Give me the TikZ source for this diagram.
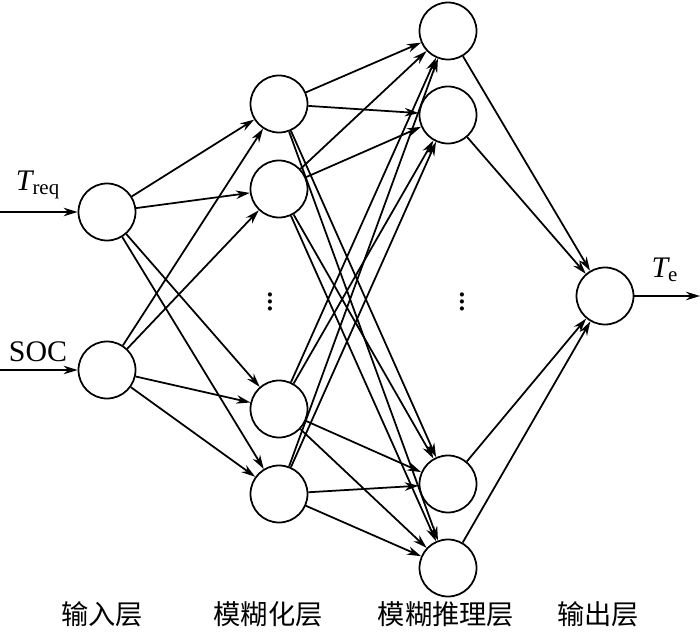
\documentclass[tikz,border=0pt]{standalone}
\usepackage{amsmath}
\usepackage{fontspec}
\setmainfont{Liberation Serif}
\newfontfamily\cjk{Noto Sans CJK SC}
\usetikzlibrary{arrows.meta}

\tikzset{
  neuron/.style={circle,draw,line width=1pt,minimum size=1.14cm,inner sep=0pt},
  link/.style={-{Stealth[length=2.8mm,width=1.7mm,inset=0.9mm]},line width=1pt},
  layer/.style={font=\cjk\fontsize{15.5}{17}\selectfont},
  sig/.style={font=\fontsize{17}{19}\selectfont},
  gap/.style={font=\fontsize{20}{22}\selectfont,inner sep=0pt}
}

\begin{document}
\begin{tikzpicture}
                      \useasboundingbox(0,0)rectangle(14,12.84);
                      % input layer
                      \node[neuron](i1)at(2.14,8.6){};
                      \node[neuron](i2)at(2.14,5.44){};
                      % fuzzification layer
                      \node[neuron](f1)at(5.58,10.76){};
                      \node[neuron](f2)at(5.58,9.06){};
                      \node[neuron](f3)at(5.58,4.66){};
                      \node[neuron](f4)at(5.58,2.96){};
                      \node[gap](fd)at(5.4,6.9){$\vdots$};
                      % inference layer
                      \node[neuron](r1)at(8.96,12.22){};
                      \node[neuron](r2)at(8.96,10.54){};
                      \node[neuron](r3)at(8.96,3.16){};
                      \node[neuron](r4)at(8.96,1.48){};
                      \node[gap](rd)at(9.24,6.9){$\vdots$};
                      % output layer
                      \node[neuron](o)at(12.1,6.92){};
                      % signals
                      \coordinate(tq)at(0,8.6);
                      \coordinate(sc)at(0,5.44);
                      \coordinate(te)at(14,6.92);
                      \node[sig](tql)at(0.76,9.14){$\textit{T}_{\textrm{req}}$};
                      \node[sig](scl)at(0.76,5.8){SOC};
                      \node[sig](tel)at(13.3,7.44){$\textit{T}_{\textrm{e}}$};
                      \draw[link](tq)--(i1);
                      \draw[link](sc)--(i2);
                      \draw[link](o)--(te);
                      % input -> fuzzification
                      \draw[link](i1)--(f1);
                      \draw[link](i1)--(f2);
                      \draw[link](i1)--(f3);
                      \draw[link](i1)--(f4);
                      \draw[link](i2)--(f1);
                      \draw[link](i2)--(f2);
                      \draw[link](i2)--(f3);
                      \draw[link](i2)--(f4);
                      % fuzzification -> inference
                      \draw[link](f1)--(r1);
                      \draw[link](f1)--(r2);
                      \draw[link](f1)--(r3);
                      \draw[link](f1)--(r4);
                      \draw[link](f2)--(r1);
                      \draw[link](f2)--(r2);
                      \draw[link](f2)--(r3);
                      \draw[link](f2)--(r4);
                      \draw[link](f3)--(r1);
                      \draw[link](f3)--(r2);
                      \draw[link](f3)--(r3);
                      \draw[link](f3)--(r4);
                      \draw[link](f4)--(r1);
                      \draw[link](f4)--(r2);
                      \draw[link](f4)--(r3);
                      \draw[link](f4)--(r4);
                      % inference -> output
                      \draw[link](r1)--(o);
                      \draw[link](r2)--(o);
                      \draw[link](r3)--(o);
                      \draw[link](r4)--(o);
                      % layer names
                      \node[layer](l1)at(2.04,0.56){输入层};
                      \node[layer](l2)at(5.36,0.56){模糊化层};
                      \node[layer](l3)at(8.92,0.56){模糊推理层};
                      \node[layer](l4)at(11.96,0.56){输出层};
                  \end{tikzpicture}
\end{document}
